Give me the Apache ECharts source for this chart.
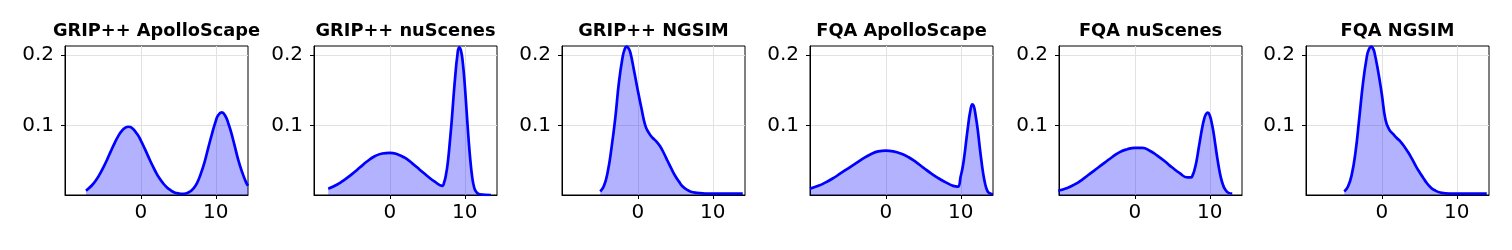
<!DOCTYPE html>
<html>
<head>
<meta charset="utf-8">
<script src="https://cdn.jsdelivr.net/npm/echarts@6/dist/echarts.min.js"></script>
<style>html,body{margin:0;padding:0;background:#fff;}#c{width:1512px;height:250px;}</style>
</head>
<body>
<div id="c"></div>
<script>
const titles = ['GRIP++ ApolloScape', 'GRIP++ nuScenes', 'GRIP++ NGSIM', 'FQA ApolloScape', 'FQA nuScenes', 'FQA NGSIM'];
const xTicks = [0, 10];
const yTicks = [0.1, 0.2];

const gripApolloX = [-7.3,-7,-6.5,-6,-5.5,-5,-4.5,-4,-3.5,-3,-2.5,-2,-1.65,-1.2,-0.5,0,0.5,1,1.5,2,2.5,3,3.5,4,4.5,5,5.5,6,6.5,7,7.5,8,8.5,9,9.5,10,10.3,10.8,11.3,11.7,12,12.5,13,13.5,14,14.3];
const gripApolloY = [0.007,0.0099,0.0149,0.0216,0.030,0.040,0.051,0.063,0.0745,0.0847,0.0925,0.097,0.098,0.0965,0.088,0.0788,0.0677,0.0559,0.0443,0.0337,0.0247,0.0174,0.0118,0.0077,0.0047,0.0033,0.0025,0.0031,0.0053,0.010,0.018,0.031,0.0475,0.068,0.088,0.106,0.114,0.1185,0.113,0.102,0.092,0.072,0.051,0.034,0.020,0.014];

const gripNuX = [-8.2,-7,-6,-5,-4,-3,-2,-1,0,1,2,3,4,5,6,7,7.25,7.5,7.75,8,8.25,8.5,8.75,9,9.25,9.5,9.75,10,10.25,10.5,10.75,11,11.25,11.5,12,13.5];
const gripNuY = [0.010,0.016,0.023,0.031,0.040,0.049,0.056,0.060,0.061,0.059,0.054,0.046,0.037,0.028,0.020,0.014,0.019,0.030,0.048,0.075,0.105,0.140,0.172,0.198,0.211,0.206,0.188,0.158,0.120,0.082,0.050,0.026,0.012,0.006,0.002,0.001];

const gripNgX = [-5.0,-4.5,-4.0,-3.5,-3.0,-2.5,-2.0,-1.75,-1.5,-1.25,-1.0,-0.5,0,0.5,1.0,1.5,2.0,2.5,3.0,3.5,4.0,4.5,5.0,5.5,6.0,6.5,7.0,8.0,9.0,10.0,14.0];
const gripNgY = [0.006,0.014,0.034,0.068,0.110,0.162,0.198,0.208,0.212,0.210,0.204,0.178,0.150,0.124,0.100,0.089,0.082,0.077,0.070,0.060,0.049,0.038,0.028,0.020,0.013,0.009,0.006,0.004,0.003,0.003,0.003];

const fqaApolloX = [-10.1,-9,-8,-7,-6,-5,-4,-3,-2,-1,0,1,2,3,4,5,6,7,8,9,9.6,10,10.25,10.5,10.75,11,11.25,11.55,11.75,12,12.25,12.5,12.75,13,13.25,13.5,13.75,14.3];
const fqaApolloY = [0.010,0.014,0.019,0.025,0.032,0.039,0.046,0.053,0.059,0.063,0.064,0.063,0.060,0.055,0.048,0.040,0.032,0.025,0.019,0.014,0.013,0.028,0.040,0.058,0.080,0.101,0.119,0.130,0.127,0.113,0.095,0.072,0.050,0.031,0.017,0.008,0.004,0.002];

const fqaNuX = [-10.2,-9,-8,-7,-6,-5,-4,-3,-2,-1,0,1,2,3,4,5,6,7,7.5,7.75,8,8.25,8.5,8.75,9,9.25,9.5,9.75,10,10.25,10.5,10.75,11,11.25,11.5,11.75,12,12.5,13];
const fqaNuY = [0.007,0.011,0.016,0.023,0.031,0.039,0.047,0.055,0.062,0.066,0.068,0.068,0.064,0.057,0.049,0.040,0.032,0.026,0.026,0.030,0.038,0.050,0.066,0.082,0.097,0.109,0.116,0.118,0.114,0.104,0.090,0.072,0.054,0.038,0.025,0.016,0.010,0.004,0.003];

const fqaNgX = [-5.0,-4.5,-4.0,-3.5,-3.0,-2.5,-2.0,-1.75,-1.4,-1.15,-1.0,-0.5,0,0.5,1.0,1.5,2.0,2.5,3.0,3.5,4.0,4.5,5.0,5.5,6.0,6.5,7.0,8.0,9.0,14.0];
const fqaNgY = [0.006,0.013,0.030,0.062,0.110,0.160,0.197,0.207,0.212,0.209,0.205,0.178,0.145,0.108,0.094,0.088,0.082,0.077,0.070,0.062,0.053,0.043,0.034,0.026,0.018,0.012,0.008,0.004,0.003,0.003];

const panelX = [gripApolloX, gripNuX, gripNgX, fqaApolloX, fqaNuX, fqaNgX];
const panelY = [gripApolloY, gripNuY, gripNgY, fqaApolloY, fqaNuY, fqaNgY];

const lefts = [65, 314, 562, 810, 1059, 1306];
const W = 183, TOP = 46, H = 149;
const FONT = 'DejaVu Sans';

const grid = [], xAxis = [], yAxis = [], series = [], title = [];
for (let i = 0; i < 6; i++) {
  grid.push({left: lefts[i], top: TOP, width: W, height: H, show: true, borderColor: '#000', borderWidth: 1, backgroundColor: 'transparent', containLabel: false});
  xAxis.push({
    type: 'value', gridIndex: i, min: -10.1, max: 14.3,
    axisLine: {show: true, onZero: false, lineStyle: {color: '#000', width: 1}},
    axisTick: {show: true, customValues: xTicks, length: 4, inside: false, lineStyle: {color: '#000', width: 1}},
    axisLabel: {show: true, customValues: xTicks, margin: 8, color: '#000', fontFamily: FONT, fontSize: 20},
    splitLine: {show: true, lineStyle: {color: '#e2e2e2', width: 1}}
  });
  yAxis.push({
    type: 'value', gridIndex: i, min: 0.001, max: 0.2128,
    axisLine: {show: true, onZero: false, lineStyle: {color: '#000', width: 1}},
    axisTick: {show: true, customValues: yTicks, length: 4, inside: false, lineStyle: {color: '#000', width: 1}},
    axisLabel: {show: true, customValues: yTicks, margin: 11, color: '#000', fontFamily: FONT, fontSize: 20, formatter: v => v.toFixed(1)},
    splitLine: {show: true, lineStyle: {color: '#e2e2e2', width: 1}}
  });
  series.push({
    type: 'line', xAxisIndex: i, yAxisIndex: i, smooth: 0.5, showSymbol: false, symbol: 'none',
    data: panelX[i].map((x, k) => [x, panelY[i][k]]),
    lineStyle: {color: '#0000ff', width: 2.7},
    itemStyle: {color: '#0000ff'},
    areaStyle: {color: 'rgba(0,0,255,0.3)', opacity: 1, origin: 'start'},
    clip: true, silent: true, animation: false
  });
  title.push({
    text: titles[i], left: lefts[i] + W / 2, top: 22, textAlign: 'center', padding: 0,
    textStyle: {fontFamily: FONT, fontWeight: 'bold', fontSize: 17.8, color: '#000'}
  });
}

const chart = echarts.init(document.getElementById('c'), null, {renderer: 'canvas'});
chart.setOption({animation: false, backgroundColor: '#fff', title, grid, xAxis, yAxis, series});
</script>
</body>
</html>
